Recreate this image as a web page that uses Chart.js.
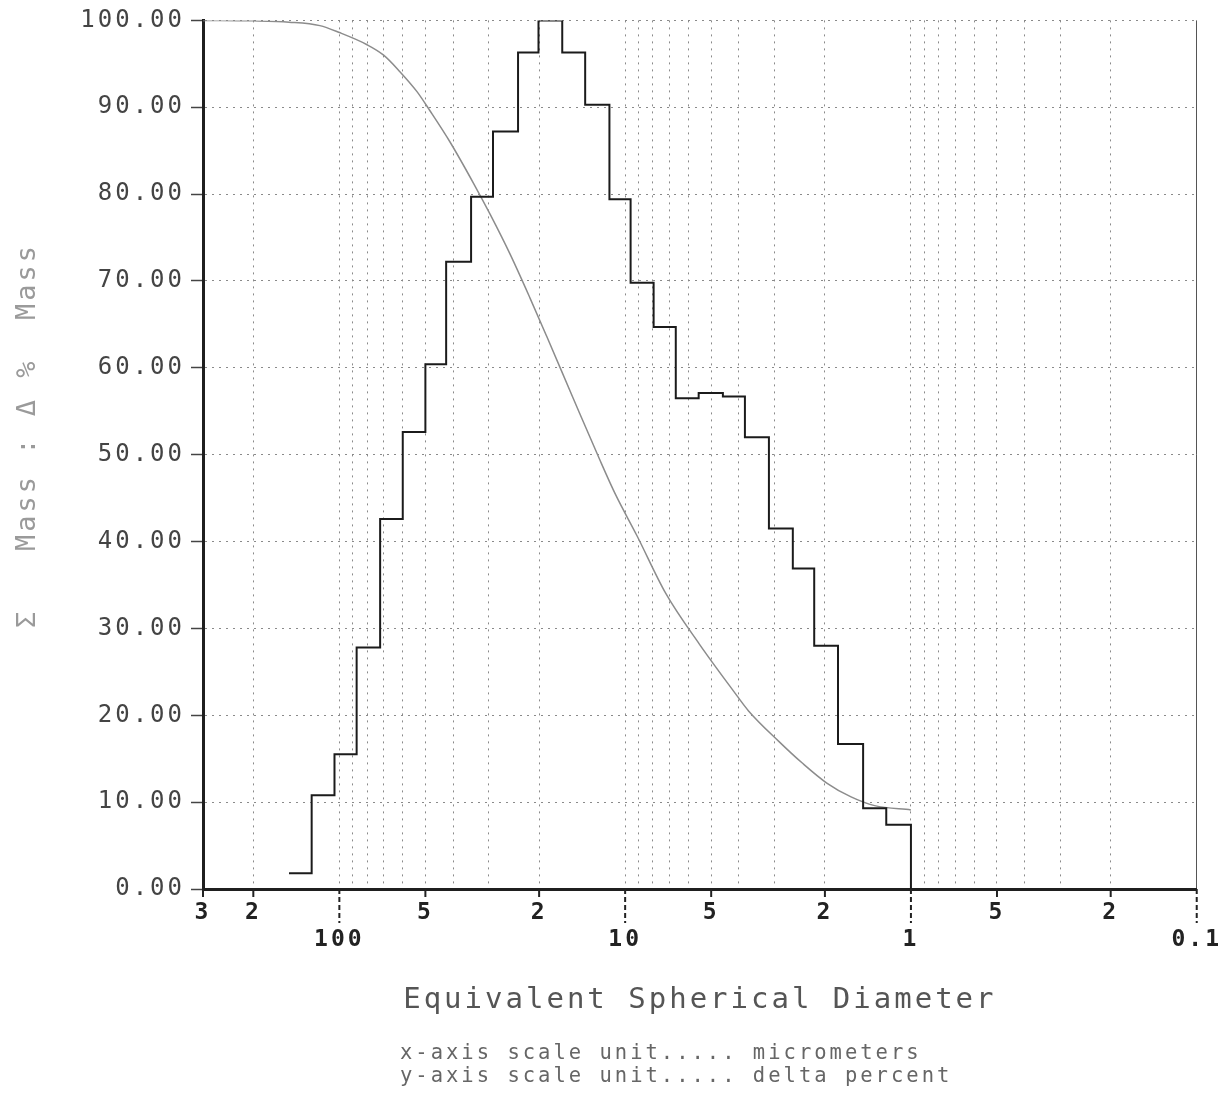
<!DOCTYPE html>
<html>
<head>
<meta charset="utf-8">
<title>Equivalent Spherical Diameter</title>
<script src="https://cdn.jsdelivr.net/npm/chart.js@4.4.1/dist/chart.umd.min.js"></script>
<style>
    html, body { margin: 0; padding: 0; background: #fff; }
    #wrap { position: relative; width: 1232px; height: 1098px; }
    #chart { display: block; }
    .units {
        position: absolute; left: 400px; top: 1041px;
        font: 20.5px 'DejaVu Sans Mono', monospace;
        letter-spacing: 3px; line-height: 23px;
        color: #666; white-space: pre;
    }
</style>
</head>
<body>
<div id="wrap">
    <canvas id="chart" width="1232" height="1098"></canvas>
    <div class="units">x-axis scale unit..... micrometers
y-axis scale unit..... delta percent</div>
</div>
<script>
// Size class boundaries in micrometers, coarse to fine
const binEdges = [150, 125, 104, 87, 72, 60, 50, 42.3, 34.6, 29, 23.7, 20.1, 16.6, 13.8, 11.35, 9.57, 7.95, 6.65, 5.53, 4.55, 3.81, 3.14, 2.59, 2.18, 1.8, 1.47, 1.22, 1.0];
// Delta mass for each class (peak normalised to 100)
const deltaMass = [1.8, 10.8, 15.5, 27.8, 42.6, 52.6, 60.4, 72.2, 79.7, 87.2, 96.3, 100, 96.3, 90.3, 79.4, 69.8, 64.7, 56.5, 57.1, 56.7, 52.0, 41.5, 36.9, 28.0, 16.7, 9.3, 7.4];

// Cumulative mass finer than diameter
const cumDiameter = [300, 200, 150, 117, 100, 80, 70, 61.4, 53.5, 48.2, 41, 34, 29.6, 25.2, 21.5, 18.8, 15.2, 12.3, 10.8, 9.1, 7.2, 5.5, 4.2, 3.7, 2.9, 2.4, 1.97, 1.62, 1.34, 1.0];
const cumMass = [100, 99.95, 99.8, 99.4, 98.6, 97.2, 96.0, 94.1, 91.8, 89.6, 86.0, 81.3, 77.6, 73.0, 68.0, 63.6, 56.5, 49.5, 45.4, 40.7, 34.0, 28.2, 22.9, 20.5, 17.0, 14.5, 12.2, 10.6, 9.6, 9.1];

// Axis ticks
const gridDiameters = [300, 200, 100, 90, 80, 70, 60, 50, 40, 30, 20, 10, 9, 8, 7, 6, 5, 4, 3, 2, 1, 0.9, 0.8, 0.7, 0.6, 0.5, 0.4, 0.3, 0.2, 0.1];
const labelValues = [300, 200, 100, 50, 20, 10, 5, 2, 1, 0.5, 0.2, 0.1];
const labelTexts = ['3', '2', '100', '5', '2', '10', '5', '2', '1', '5', '2', '0.1'];
const decadeValues = [100, 10, 1, 0.1];

Chart.defaults.font.family = "'DejaVu Sans Mono', monospace";

// wide printer-style lettering for all canvas text
const spacedText = {
    id: 'spacedText',
    beforeUpdate(chart) { chart.ctx.letterSpacing = '3px'; },
    beforeDraw(chart) { chart.ctx.letterSpacing = '3px'; }
};

// tick marks under the x axis: short for 2/3/5, long dashed for decades
const axisTicks = {
    id: 'axisTicks',
    afterDraw(chart) {
        const sx = chart.scales.x;
        const ctx = chart.ctx;
        const y0 = chart.chartArea.bottom;
        ctx.save();
        ctx.strokeStyle = '#222';
        ctx.lineWidth = 2;
        labelValues.forEach(v => {
            const px = sx.getPixelForValue(v);
            const major = decadeValues.includes(v);
            ctx.setLineDash(major ? [5, 3] : []);
            ctx.beginPath();
            ctx.moveTo(px, y0);
            ctx.lineTo(px, y0 + (major ? 34 : 8));
            ctx.stroke();
        });
        ctx.restore();
    }
};

const histPoints = binEdges.map((d, i) => ({ x: d, y: i < deltaMass.length ? deltaMass[i] : 0 }));
const cumPoints = cumDiameter.map((d, i) => ({ x: d, y: cumMass[i] }));

new Chart(document.getElementById('chart'), {
    type: 'line',
    data: {
        datasets: [
            {
                label: 'Δ % Mass',
                data: histPoints,
                stepped: true,
                borderColor: '#1b1b1b',
                borderWidth: 2,
                pointRadius: 0,
                fill: false
            },
            {
                label: 'Σ Mass',
                data: cumPoints,
                cubicInterpolationMode: 'monotone',
                borderColor: '#8c8c8c',
                borderWidth: 1.5,
                pointRadius: 0,
                fill: false
            }
        ]
    },
    options: {
        responsive: false,
        animation: false,
        events: [],
        layout: { padding: { top: 20, right: 32, bottom: 0, left: 0 } },
        plugins: { legend: { display: false }, tooltip: { enabled: false } },
        scales: {
            x: {
                type: 'logarithmic',
                reverse: true,
                min: 0.1,
                max: 300,
                afterBuildTicks: s => { s.ticks = gridDiameters.map(v => ({ value: v })); },
                afterFit: s => { s.height = 209; },
                grid: {
                    drawTicks: false,
                    lineWidth: 1,
                    color: c => (c.tick && c.tick.value === 0.1) ? '#555' : '#8a8a8a'
                },
                border: {
                    color: '#1f1f1f',
                    width: 3,
                    dash: c => (c.tick && c.tick.value === 0.1) ? [] : [2, 5]
                },
                ticks: {
                    autoSkip: false,
                    maxRotation: 0,
                    padding: 10,
                    color: '#222',
                    font: { size: 23, weight: 'bold' },
                    callback: v => {
                        const i = labelValues.indexOf(v);
                        if (i < 0) return '';
                        return decadeValues.includes(v) ? ['', labelTexts[i]] : labelTexts[i];
                    }
                },
                title: {
                    display: true,
                    text: 'Equivalent Spherical Diameter',
                    color: '#555',
                    font: { size: 29 },
                    padding: { top: 0, bottom: 80 }
                }
            },
            y: {
                min: 0,
                max: 100,
                afterFit: s => { s.width = 203; },
                grid: { color: '#8a8a8a', lineWidth: 1, tickColor: '#444', tickLength: 12, tickWidth: 1.5 },
                border: { color: '#1f1f1f', width: 3, dash: [2, 5] },
                ticks: {
                    stepSize: 10,
                    padding: 6,
                    color: '#444',
                    font: { size: 24 },
                    callback: v => v.toFixed(2)
                },
                title: {
                    display: true,
                    text: '  Σ   Mass : Δ %  Mass',
                    color: '#9a9a9a',
                    font: { size: 27 },
                    padding: { top: 12, bottom: 0 }
                }
            }
        }
    },
    plugins: [spacedText, axisTicks]
});
</script>
</body>
</html>
